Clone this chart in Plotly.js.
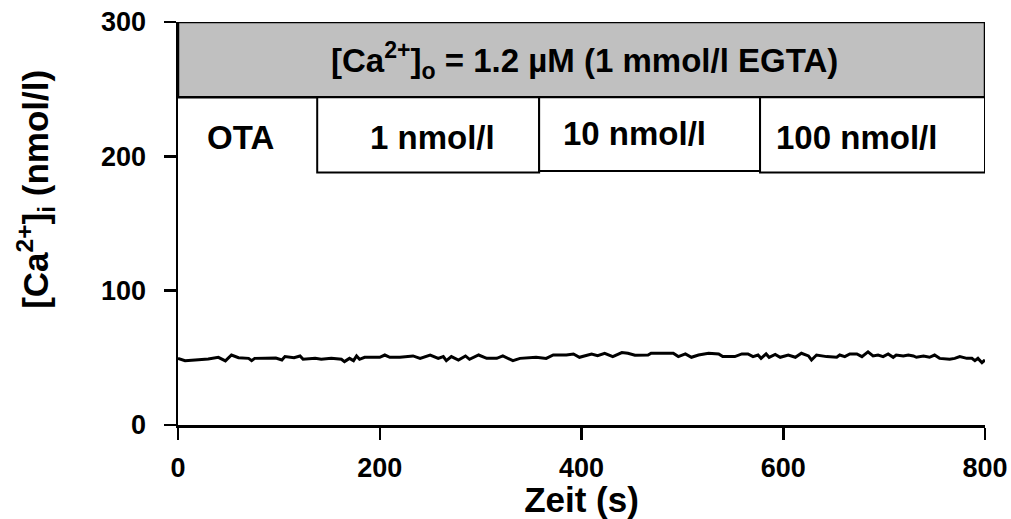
<!DOCTYPE html>
<html>
<head>
<meta charset="utf-8">
<script src="https://cdn.plot.ly/plotly-3.0.1.min.js"></script>
<style>html,body{margin:0;padding:0;background:#fff;}#chart{width:1011px;height:519px;}</style>
</head>
<body>
<div id="chart"></div>
<script>
// Time (s) and cytosolic calcium (nmol/l)
const timeSec = [0,2,7,17,30,40,47,53,60,70,73,76,90,97,103,106,115,121,124,136,142,152,162,165,170,174,177,180,185,200,
  205,210,220,233,240,250,258,263,266,271,278,285,289,298,306,316,322,327,332,339,355,365,372,385,392,398,403,
  410,416,423,431,440,446,453,466,469,491,496,503,509,516,526,536,540,552,559,565,570,575,578,583,586,592,597,605,
  612,618,625,628,633,643,653,656,661,666,673,678,684,689,694,699,704,709,712,719,724,729,732,739,745,750,755,765,770,775,782,787,790,793,797,800];
const caConc = [49.6,49.1,47.9,48.4,49.1,50.4,47.7,52.1,50.1,49.6,47.9,49.6,49.6,49.9,48.4,50.9,50.1,51.4,48.9,49.6,48.9,49.6,48.9,47.2,49.6,47.9,51.4,48.9,50.4,50.4,
  52.1,50.4,50.4,51.4,49.6,52.1,49.6,50.9,47.9,50.9,48.4,51.4,48.9,52.1,49.6,49.6,51.4,49.6,47.9,49.6,50.4,49.6,52.1,52.1,52.9,50.4,51.4,
  52.9,51.6,53.4,50.9,53.9,53.4,51.9,52.1,53.4,53.4,50.9,52.9,50.4,52.1,53.4,52.9,50.9,50.9,52.9,52.9,50.9,52.1,49.6,52.9,50.4,52.6,50.4,52.1,
  50.4,53.4,51.4,48.4,52.1,50.9,50.4,52.1,50.9,52.9,52.9,50.9,54.4,51.4,52.1,50.9,52.9,50.4,52.1,51.4,52.1,51.4,50.4,51.4,50.4,52.1,49.6,48.9,49.6,50.9,49.6,49.6,47.9,49.6,46.4,48.4];

// Protocol phases
const phaseLabels = ['OTA', '1 nmol/l', '10 nmol/l', '100 nmol/l'];
const phaseStart = [0, 138, 358, 577];
const phaseEnd = [138, 358, 577, 800];
const bathLabel = '[Ca<sup>2+</sup>]<sub>o</sub> = 1.2 µM (1 mmol/l EGTA)';
const yTitle = '[Ca<sup>2+</sup>]<sub>i</sub> (nmol/l)';
const xTitle = 'Zeit (s)';
const xTicks = [0, 200, 400, 600, 800];
const yTicks = [0, 100, 200, 300];

const FONT = 'Arial, "Liberation Sans", sans-serif';
const bold = (size) => ({family: FONT, size: size, color: '#000', weight: 'bold'});

const shapes = [{
  type: 'rect', xref: 'x', yref: 'y', x0: 0, x1: 800, y0: 244, y1: 300,
  fillcolor: '#c0c0c0', line: {color: '#000', width: 2.5}, layer: 'above'
}];
const annotations = [{
  xref: 'x', yref: 'y', x: 403, y: 271, text: bathLabel,
  showarrow: false, font: bold(33), xanchor: 'center', yanchor: 'middle'
}, {
  xref: 'paper', yref: 'paper', x: -0.176, y: 0.586, text: yTitle, textangle: -90,
  showarrow: false, font: bold(35), xanchor: 'center', yanchor: 'middle'
}];
const boxBottoms = [null, 188, 189, 188];
const labelY = [214, 214, 217, 214];
const labelX = [62, 252, 453, 673];
for (let i = 0; i < phaseLabels.length; i++) {
  if (boxBottoms[i] !== null) {
    shapes.push({type: 'rect', xref: 'x', yref: 'y', x0: phaseStart[i], x1: phaseEnd[i], y0: boxBottoms[i], y1: 244,
      fillcolor: '#fff', line: {color: '#000', width: 2}, layer: 'above'});
  }
  annotations.push({xref: 'x', yref: 'y', x: labelX[i], y: labelY[i], text: phaseLabels[i],
    showarrow: false, font: bold(33), xanchor: 'center', yanchor: 'middle'});
}

const trace = {
  x: timeSec, y: caConc, type: 'scatter', mode: 'lines',
  line: {color: '#000', width: 3}, hoverinfo: 'skip'
};

const layout = {
  width: 1011, height: 519,
  margin: {l: 178, r: 26, t: 22, b: 94},
  paper_bgcolor: '#fff', plot_bgcolor: '#fff',
  showlegend: false,
  font: {family: FONT, color: '#000'},
  xaxis: {
    range: [0, 800], tickvals: xTicks,
    ticks: 'outside', ticklen: 12, tickwidth: 2.5, tickcolor: '#000',
    showline: true, linecolor: '#000', linewidth: 2.5, showgrid: false, zeroline: false,
    tickfont: bold(27), ticklabelstandoff: 5,
    title: {text: xTitle, font: bold(35), standoff: 0}
  },
  yaxis: {
    range: [0, 300], tickvals: yTicks,
    ticks: 'outside', ticklen: 12, tickwidth: 2.5, tickcolor: '#000',
    showline: true, linecolor: '#000', linewidth: 2.5, showgrid: false, zeroline: false,
    tickfont: bold(27), ticklabelstandoff: 12
  },
  shapes: shapes,
  annotations: annotations
};

Plotly.newPlot('chart', [trace], layout, {displayModeBar: false, staticPlot: true});
</script>
</body>
</html>
